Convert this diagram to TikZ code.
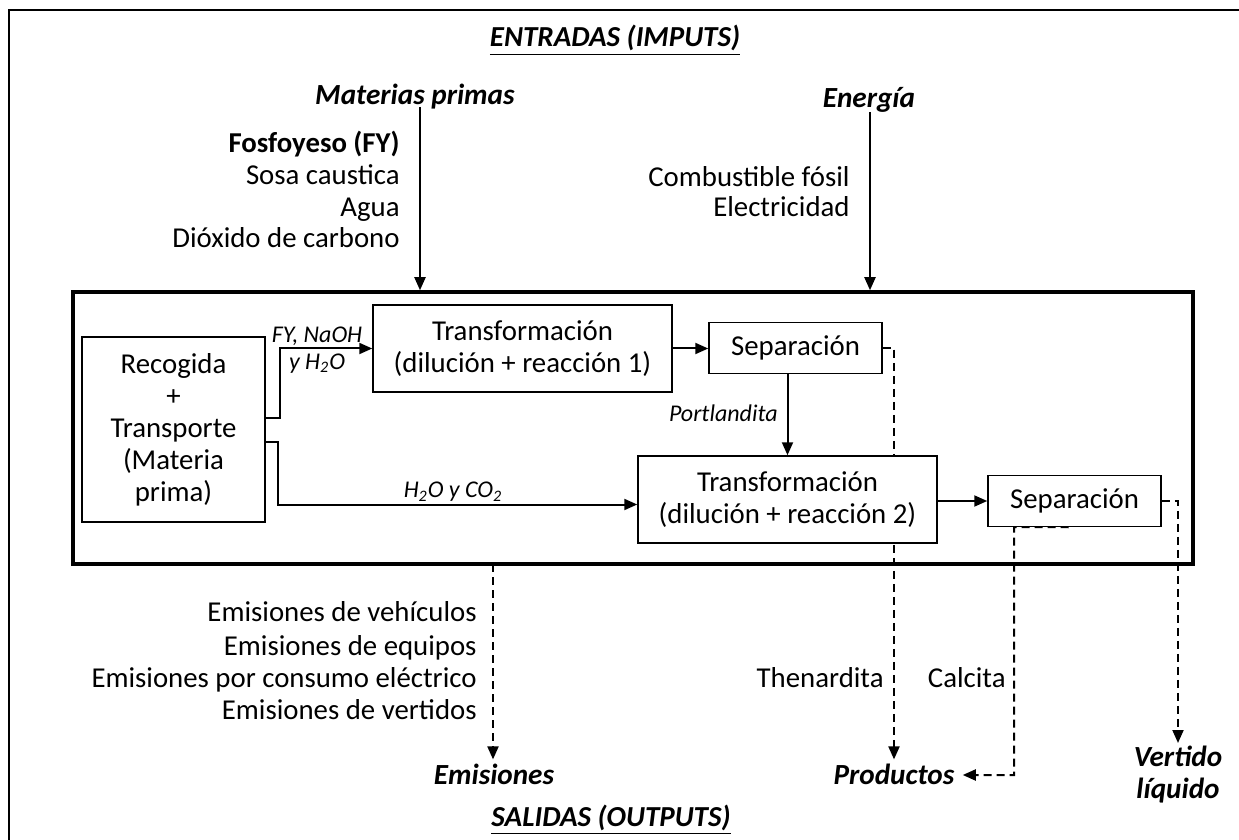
\documentclass[tikz,border=0pt]{standalone}
\usepackage{fontspec}
\setmainfont{Carlito}
\usetikzlibrary{arrows.meta}
\pgfdeclarelayer{background}
\pgfsetlayers{background,main}
\begin{document}
\begin{tikzpicture}[x=0.5pt,y=-0.5pt,
  txt/.style={inner sep=0pt, font=\fontsize{14.4}{17}\selectfont, text height=9.2pt, text depth=0pt},
  hdr/.style={inner sep=0pt, font=\fontsize{14.6}{17}\selectfont\bfseries\itshape, text height=9.2pt, text depth=0pt},
  ttl/.style={inner sep=0pt, anchor=base, font=\fontsize{14.5}{17}\selectfont\bfseries\itshape},
  lbl/.style={inner sep=0pt, font=\fontsize{12}{13}\selectfont\itshape},
  box/.style={draw, line width=0.75pt, fill=white, inner sep=0pt, font=\fontsize{14.4}{16}\selectfont, align=center},
  frame/.style={draw, line width=1.75pt, inner sep=0pt},
  arr/.style={line width=1pt, -{Triangle[length=6.5pt,width=5.5pt]}},
  darr/.style={line width=1pt, dash pattern=on 4pt off 2.5pt, -{Triangle[length=6.5pt,width=5.5pt]}}]
\useasboundingbox (0,0) rectangle (1239,840);
\draw[line width=1pt] (9,10) rectangle (1250,850);

% titles
\node[ttl] (ent) at (615,47) {\underline{ENTRADAS (IMPUTS)}};
\node[ttl] (sal) at (611,826) {\underline{SALIDAS (OUTPUTS)}};

% inputs
\node[hdr, anchor=east] (mp) at (515,95) {Materias primas};
\node[txt, anchor=east, font=\fontsize{14.4}{17}\selectfont\bfseries] (fy) at (400,143) {Fosfoyeso (FY)};
\node[txt, anchor=east] (sosa) at (400,175) {Sosa caustica};
\node[txt, anchor=east] (agua) at (400,207) {Agua};
\node[txt, anchor=east] (dio) at (400,238) {Dióxido de carbono};
\node[hdr] (en) at (869,98) {Energía};
\node[txt, anchor=east] (comb) at (850,177) {Combustible fósil};
\node[txt, anchor=east] (elec) at (850,207) {Electricidad};

% process frame
\node[frame, minimum width=560pt, minimum height=136pt] (proc) at (633,428) {};

% boxes
\node[box, minimum width=91.5pt, minimum height=92.5pt] (rec) at (173.5,429.5) {Recogida\\+\\Transporte\\(Materia\\prima)};
\node[box, minimum width=149.5pt, minimum height=43.5pt] (t1) at (522.5,348.5) {Transformación\\(dilución + reacción 1)};
\node[box, minimum width=86.5pt, minimum height=25.5pt] (s1) at (795.5,348) {Separación};
\node[box, minimum width=149.5pt, minimum height=43.5pt] (t2) at (787.5,499.5) {Transformación\\(dilución + reacción 2)};
\node[box, minimum width=86.5pt, minimum height=25.5pt] (s2) at (1074.5,501) {Separación};

% labels
\node[lbl, align=center] (l1) at (317,350) {FY, NaOH\\[0.5pt]y H\textsubscript{2}O};
\node[lbl] (l2) at (453,492) {H\textsubscript{2}O y CO\textsubscript{2}};
\node[lbl, anchor=east] (l3) at (778,413) {Portlandita};

% outputs
\node[txt, anchor=east] (e1) at (477,612) {Emisiones de vehículos};
\node[txt, anchor=east] (e2) at (477,646) {Emisiones de equipos};
\node[txt, anchor=east] (e3) at (477,678) {Emisiones por consumo eléctrico};
\node[txt, anchor=east] (e4) at (477,710) {Emisiones de vertidos};
\node[hdr] (emi) at (494,775) {Emisiones};
\node[txt, anchor=east] (then) at (884,678) {Thenardita};
\node[txt, anchor=east] (calc) at (1006,678) {Calcita};
\node[hdr] (prod) at (894,775) {Productos};
\node[inner sep=0pt, anchor=north, align=center, font=\fontsize{14.6}{16}\selectfont\bfseries\itshape] (vert) at (1178,746) {Vertido\\líquido};

% input arrows
\coordinate (mpa) at (420,107);
\coordinate (ena) at (870,112);
\draw[arr] (mpa) -- (mpa |- proc.north);
\draw[arr] (ena) -- (ena |- proc.north);

% process connectors
\draw[arr] ([yshift=5.75pt]rec.east) -- ++(14,0) |- (t1.west);
\draw[arr] ([yshift=-6.25pt]rec.east) -- ++(12,0) |- ([yshift=-2.5pt]t2.west);
\draw[arr] (t1.east) -- (t1.east -| s1.west);
\draw[arr] (t2.north |- s1.south) -- (t2.north);
\draw[arr] (s2.west -| t2.east) -- (s2.west);

% output dashed connectors (behind boxes)
\begin{pgfonlayer}{background}
\coordinate (ema) at (493,564);
\coordinate (c1) at ([xshift=-3pt]s2.south);
\coordinate (cb) at (1014,527);
\draw[darr] (ema) -- ([yshift=3pt]ema |- emi.north);
\draw[darr] (s1.east) -| ([yshift=3pt]prod.north);
\draw[darr, shorten >=4pt] (c1) -- (cb) |- (prod.east);
\draw[darr] (s2.east) -| ([yshift=1.5pt]vert.north);
\end{pgfonlayer}
\end{tikzpicture}
\end{document}
